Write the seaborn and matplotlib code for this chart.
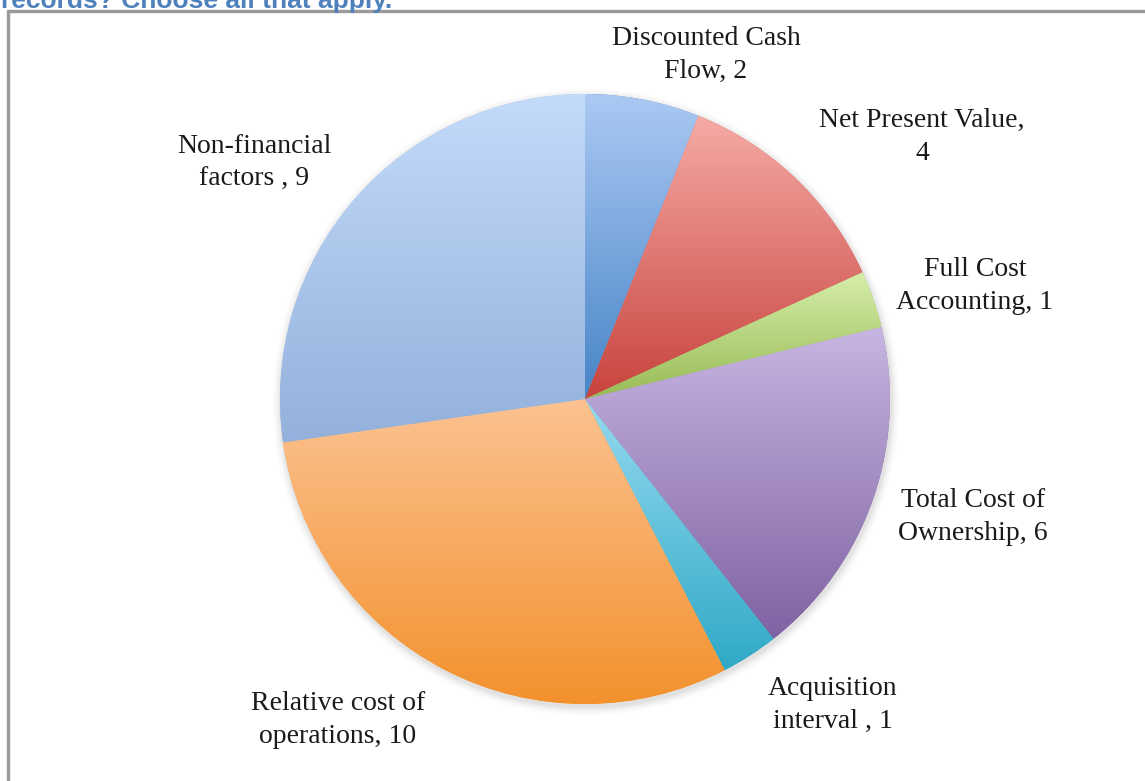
import numpy as np
import matplotlib
matplotlib.use("Agg")
import matplotlib.pyplot as plt
from matplotlib.colors import LinearSegmentedColormap
from matplotlib.lines import Line2D
from matplotlib.patches import Circle
import seaborn as sns

# Survey responses: methods used to evaluate records
categories = [
    "Discounted Cash Flow",
    "Net Present Value",
    "Full Cost Accounting",
    "Total Cost of Ownership",
    "Acquisition interval",
    "Relative cost of operations",
    "Non-financial factors",
]
counts = [2, 4, 1, 6, 1, 10, 9]
label_texts = [
    "Discounted Cash\nFlow, 2",
    "Net Present Value,\n4",
    "Full Cost\nAccounting, 1",
    "Total Cost of\nOwnership, 6",
    "Acquisition\ninterval , 1",
    "Relative cost of\noperations, 10",
    "Non-financial\nfactors , 9",
]
# (top, bottom) gradient colours for each slice
slice_top = ["#abc9f3", "#f6aba6", "#d5eeaa", "#c8b6e2", "#96daf0", "#fcc291", "#c4dbfa"]
slice_bottom = ["#4784c7", "#c8433d", "#98bb55", "#7f62a2", "#2fa9c6", "#f3912d", "#93b1dc"]

sns.set_theme(style="white")
plt.rcParams["font.family"] = ["Liberation Serif", "DejaVu Serif"]

W, H = 1145, 781
fig = plt.figure(figsize=(W / 100, H / 100), dpi=100)
fig.patch.set_facecolor("white")
ax = fig.add_axes([0, 0, 1, 1])
ax.set_xlim(0, W)
ax.set_ylim(0, H)
ax.set_aspect("equal")
ax.axis("off")

cx, cy, R = 585, H - 399, 305

# soft drop shadow under the pie
for i, a in enumerate(np.linspace(0.05, 0.01, 8)):
    ax.add_patch(Circle((cx + 1, cy - 3), R + 1 + i * 1.2, facecolor="#000000",
                        alpha=a * 0.5, edgecolor="none", zorder=1))
ax.add_patch(Circle((cx, cy), R, facecolor="white", edgecolor="none", zorder=1.5))

wedges, _ = ax.pie(counts, startangle=90, counterclock=False, center=(cx, cy),
                   radius=R, colors=slice_bottom,
                   wedgeprops=dict(linewidth=0, edgecolor="none"))
ax.set_xlim(0, W)
ax.set_ylim(0, H)
ax.set_aspect("equal")

# vertical gradient per slice: darker at the bottom, lighter at the top
grad = np.linspace(0, 1, 256).reshape(-1, 1)
for w, top, bot in zip(wedges, slice_top, slice_bottom):
    t1, t2 = np.deg2rad(w.theta1), np.deg2rad(w.theta2)
    th = np.linspace(t1, t2, 200)
    ys = np.concatenate([cy + R * np.sin(th), [cy]])
    xs = np.concatenate([cx + R * np.cos(th), [cx]])
    cmap = LinearSegmentedColormap.from_list("g", [bot, top])
    im = ax.imshow(grad, cmap=cmap, aspect="auto", origin="lower",
                   extent=(xs.min(), xs.max(), ys.min(), ys.max()),
                   interpolation="bilinear", zorder=3)
    im.set_clip_path(w)
    w.set_zorder(2)

ax.set_xlim(0, W)
ax.set_ylim(0, H)

# slice labels
label_pos = [(706, 55), (922, 137), (975, 286), (973, 517), (833, 705), (338, 720), (254, 163)]
for txt, (lx, ly) in zip(label_texts, label_pos):
    ax.text(lx, H - ly, txt, ha="center", va="center", fontsize=20,
            color="#1a1a1a", linespacing=1.42, zorder=5)

# frame around the chart area
fig.add_artist(Line2D([8 / W, 8 / W], [0, 1 - 11 / H], color="#9a9a9a", linewidth=2.4))
fig.add_artist(Line2D([8 / W, 1], [1 - 11 / H, 1 - 11 / H], color="#9a9a9a", linewidth=2.4))

# question text running above the frame
fig.text(1 / W, 1 - 8 / H, "records? Choose all that apply.", ha="left", va="baseline",
         fontsize=19, fontweight="bold", color="#4f81bd", family=["Liberation Sans", "DejaVu Sans"])

fig.savefig("out.png", dpi=100, facecolor="white")
